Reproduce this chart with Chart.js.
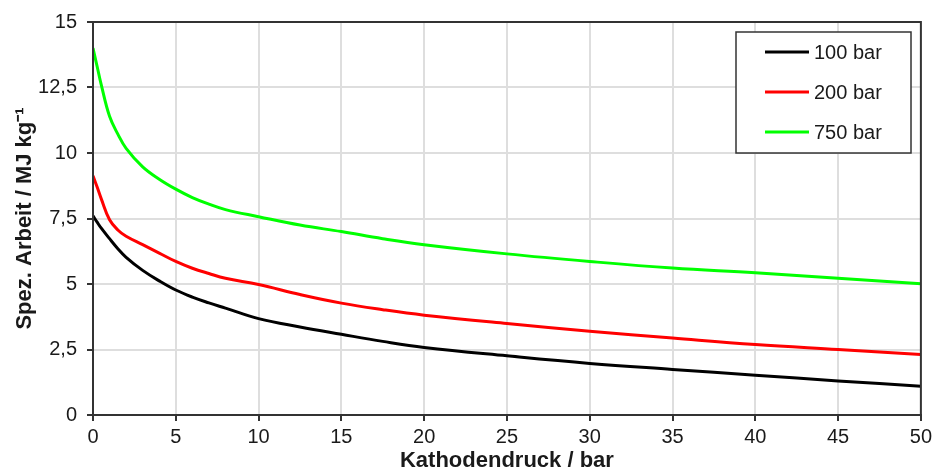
<!DOCTYPE html>
<html>
<head>
<meta charset="utf-8">
<script src="https://cdn.jsdelivr.net/npm/chart.js@4.4.1/dist/chart.umd.min.js"></script>
<style>
  html, body { margin: 0; padding: 0; background: #ffffff; }
  #wrap { width: 936px; height: 475px; }
</style>
</head>
<body>
<div id="wrap"><canvas id="c" width="936" height="475"></canvas></div>
<script>
// ---- data ----
const pressures = [0, 0.25, 0.5, 1, 1.5, 2, 3, 4, 5, 6, 7, 8, 10, 12.5, 15, 17.5, 20, 25, 30, 35, 40, 45, 50];
const work100 = [7.6, 7.36, 7.13, 6.73, 6.35, 6.02, 5.52, 5.12, 4.77, 4.5, 4.28, 4.08, 3.68, 3.36, 3.08, 2.81, 2.58, 2.26, 1.97, 1.74, 1.52, 1.3, 1.1];
const work200 = [9.13, 8.7, 8.25, 7.45, 7.06, 6.82, 6.5, 6.18, 5.86, 5.6, 5.4, 5.22, 4.98, 4.6, 4.27, 4.02, 3.81, 3.49, 3.2, 2.94, 2.69, 2.5, 2.31];
const work750 = [14.0, 13.3, 12.6, 11.4, 10.72, 10.18, 9.47, 9.0, 8.62, 8.3, 8.05, 7.84, 7.57, 7.25, 7.0, 6.73, 6.5, 6.15, 5.86, 5.61, 5.43, 5.22, 5.01];
const seriesNames = ['100 bar', '200 bar', '750 bar'];
const xTickValues = [0, 5, 10, 15, 20, 25, 30, 35, 40, 45, 50];
const xTickLabels = ['0', '5', '10', '15', '20', '25', '30', '35', '40', '45', '50'];
const yTickValues = [0, 2.5, 5, 7.5, 10, 12.5, 15];
const yTickLabels = ['0', '2,5', '5', '7,5', '10', '12,5', '15'];
const xTitle = 'Kathodendruck / bar';
const yTitle = 'Spez. Arbeit / MJ kg\u207B\u00B9';

function toPoints(xs, ys) { return xs.map((x, i) => ({ x: x, y: ys[i] })); }

const colors = ['#000000', '#ff0000', '#00ff00'];
const seriesData = [work100, work200, work750];

const datasets = seriesNames.map((name, i) => ({
  label: name,
  data: toPoints(pressures, seriesData[i]),
  borderColor: colors[i],
  backgroundColor: colors[i],
  borderWidth: 3,
  pointRadius: 0,
  tension: 0.4,
  fill: false
}));

const FONT = "'Liberation Sans', Arial, sans-serif";

const frameAndLegend = {
  id: 'frameAndLegend',
  afterDatasetsDraw(chart) {
    const ctx = chart.ctx;
    const a = chart.chartArea;
    ctx.save();
    ctx.strokeStyle = '#333333';
    ctx.lineWidth = 2;
    ctx.strokeRect(a.left, a.top, a.right - a.left, a.bottom - a.top);
    const bx = 736, by = 32, bw = 175, bh = 121;
    ctx.fillStyle = '#ffffff';
    ctx.fillRect(bx, by, bw, bh);
    ctx.strokeStyle = '#333333';
    ctx.lineWidth = 1.5;
    ctx.strokeRect(bx, by, bw, bh);
    ctx.font = '20px ' + FONT;
    ctx.textBaseline = 'middle';
    ctx.textAlign = 'left';
    chart.data.datasets.forEach((ds, i) => {
      const y = 52 + i * 40;
      ctx.strokeStyle = ds.borderColor;
      ctx.lineWidth = 3;
      ctx.beginPath();
      ctx.moveTo(765, y);
      ctx.lineTo(809, y);
      ctx.stroke();
      ctx.fillStyle = '#1a1a1a';
      ctx.fillText(ds.label, 814, y + 1);
    });
    ctx.restore();
  }
};

new Chart(document.getElementById('c'), {
  type: 'line',
  data: { datasets: datasets },
  options: {
    responsive: false,
    animation: false,
    devicePixelRatio: 1,
    layout: { padding: { top: 21, right: 13, left: 0, bottom: 0 } },
    plugins: { legend: { display: false }, tooltip: { enabled: false } },
    scales: {
      x: {
        type: 'linear',
        min: 0, max: 50,
        afterBuildTicks(axis) { axis.ticks = xTickValues.map(v => ({ value: v })); },
        afterFit(axis) { axis.height = 60; },
        ticks: {
          callback(value) { const i = xTickValues.indexOf(value); return i >= 0 ? xTickLabels[i] : ''; },
          color: '#1a1a1a',
          font: { family: FONT, size: 20 },
          padding: 4,
          maxRotation: 0
        },
        grid: { color: '#dedede', lineWidth: 2, tickLength: 6, tickColor: '#333333', tickWidth: 2 },
        border: { display: true, color: '#333333', width: 2 },
        title: {
          display: true, text: xTitle, color: '#1a1a1a',
          font: { family: FONT, size: 22, weight: 'bold' },
          padding: { top: 0, bottom: 1 }
        }
      },
      y: {
        type: 'linear',
        min: 0, max: 15,
        afterBuildTicks(axis) { axis.ticks = yTickValues.map(v => ({ value: v })); },
        afterFit(axis) { axis.width = 93; },
        ticks: {
          callback(value) { const i = yTickValues.indexOf(value); return i >= 0 ? yTickLabels[i] : ''; },
          color: '#1a1a1a',
          font: { family: FONT, size: 20 },
          padding: 10
        },
        grid: { color: '#dedede', lineWidth: 2, tickLength: 6, tickColor: '#333333', tickWidth: 2 },
        border: { display: true, color: '#333333', width: 2 },
        title: {
          display: true, text: yTitle, color: '#1a1a1a',
          font: { family: FONT, size: 22, weight: 'bold' },
          padding: { top: 12, bottom: 0 }
        }
      }
    }
  },
  plugins: [frameAndLegend]
});
</script>
</body>
</html>
